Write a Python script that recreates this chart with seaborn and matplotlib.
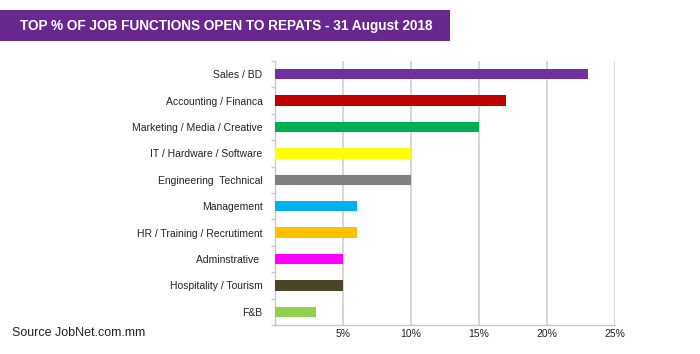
import matplotlib
matplotlib.use("Agg")
import matplotlib.pyplot as plt
import matplotlib.patches as patches
from matplotlib.ticker import FuncFormatter, FixedLocator
import pandas as pd
import seaborn as sns

# Data
functions = [
    "Sales / BD",
    "Accounting / Financa",
    "Marketing / Media / Creative",
    "IT / Hardware / Software",
    "Engineering  Technical",
    "Management",
    "HR / Training / Recrutiment",
    "Adminstrative ",
    "Hospitality / Tourism",
    "F&B",
]
share = [23, 17, 15, 10, 10, 6, 6, 5, 5, 3]
bar_colors = [
    "#7030a0", "#c00000", "#00b050", "#ffff00", "#808080",
    "#00b0f0", "#ffc000", "#ff00ff", "#4a4429", "#92d050",
]
x_ticks = [5, 10, 15, 20, 25]

df = pd.DataFrame({"function": functions, "share": share})

sns.set_theme(style="white")
plt.rcParams["font.family"] = ["Liberation Sans", "DejaVu Sans"]

fig = plt.figure(figsize=(7, 3.54), dpi=100)
ax = fig.add_axes([275 / 700, 1 - 325 / 354, 340 / 700, 264 / 354])

sns.barplot(data=df, x="share", y="function", hue="function",
            palette=bar_colors, legend=False, width=0.39,
            saturation=1, linewidth=0, ax=ax, zorder=3)

ax.set_xlim(0, 25)
ax.set_ylim(9.5, -0.5)
ax.xaxis.set_major_locator(FixedLocator(x_ticks))
ax.xaxis.set_major_formatter(FuncFormatter(lambda v, _: f"{int(v)}%"))
ax.grid(axis="x", color="#d0d0d0", linewidth=1.2, zorder=0)
ax.set_xlabel("")
ax.set_ylabel("")

for side in ["top", "right"]:
    ax.spines[side].set_visible(False)
for side in ["left", "bottom"]:
    ax.spines[side].set_color("#c8c8c8")
    ax.spines[side].set_linewidth(1.0)

ax.tick_params(axis="y", length=0, labelsize=7.5, pad=9, colors="#222222")
ax.tick_params(axis="x", length=0, labelsize=7.5, pad=3, colors="#222222")
ax.set_yticks([i + 0.5 for i in range(-1, 10)], minor=True)
ax.tick_params(axis="y", which="minor", length=3, color="#c8c8c8",
               direction="out", left=True)

# title banner
fig.patches.append(patches.Rectangle((0, 1 - 41 / 354), 450 / 700, 31 / 354,
                                     transform=fig.transFigure,
                                     facecolor="#68288f", edgecolor="none"))
fig.text(20 / 700, 1 - 26 / 354, "TOP % OF JOB FUNCTIONS OPEN TO REPATS - 31 August 2018",
         color="white", fontsize=9.8, fontweight="bold", va="center", ha="left")

fig.text(12 / 700, 1 - 333 / 354, "Source JobNet.com.mm", fontsize=9,
         color="#222222", va="center", ha="left")

fig.savefig("out.png", dpi=100)
